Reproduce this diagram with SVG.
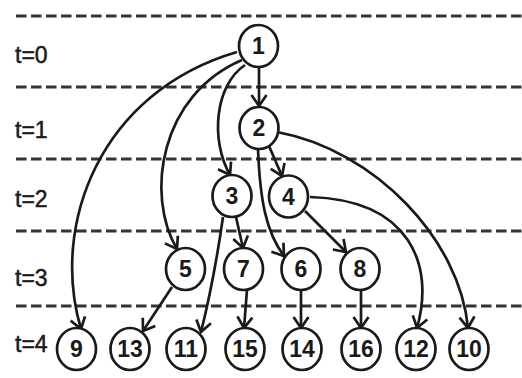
<svg xmlns="http://www.w3.org/2000/svg" width="522" height="378" viewBox="0 0 522 378">
<style>
.grid{stroke:#333;stroke-width:2.8;stroke-dasharray:10.5 4.5;fill:none}
.lbl{font-family:"Liberation Sans",Arial,sans-serif;font-size:23px;fill:#1a1a1a;stroke:#1a1a1a;stroke-width:0.5}
.node ellipse{fill:#fff;stroke:#1a1a1a;stroke-width:2.7}
.node text{font-family:"Liberation Sans",Arial,sans-serif;font-size:23px;font-weight:bold;fill:#1a1a1a;text-anchor:middle}
.edge{fill:none;stroke:#1a1a1a;stroke-width:2.7;marker-end:url(#arr)}
</style>
<defs>
<marker id="arr" markerUnits="userSpaceOnUse" viewBox="-13 -10 15 20" refX="0" refY="0" markerWidth="15" markerHeight="20" orient="auto">
<path d="M-11,-7.5 L0,0 L-11,7.5" fill="none" stroke="#1a1a1a" stroke-width="2.7" stroke-linejoin="miter"/>
</marker>
</defs>
<rect width="522" height="378" fill="#fff"/>
<g id="grid">
<line class="grid" x1="16" y1="16" x2="522" y2="16"/>
<line class="grid" x1="16" y1="87" x2="522" y2="87"/>
<line class="grid" x1="16" y1="159" x2="522" y2="159"/>
<line class="grid" x1="16" y1="231" x2="522" y2="231"/>
<line class="grid" x1="16" y1="306" x2="522" y2="306"/>
</g>
<g id="time-labels">
<text class="lbl" x="15" y="63">t=0</text>
<text class="lbl" x="15" y="138">t=1</text>
<text class="lbl" x="15" y="207">t=2</text>
<text class="lbl" x="15" y="286">t=3</text>
<text class="lbl" x="15" y="352">t=4</text>
</g>
<g id="connectors">
<path class="edge" d="M259,68 L259,106"/>
<path class="edge" d="M245,65 C215,85 210,140 230,175"/>
<path class="edge" d="M242,60 C160,95 145,195 177,249"/>
<path class="edge" d="M237,52 C100,92 50,225 81,329"/>
<path class="edge" d="M269,146 L282,176"/>
<path class="edge" d="M258,149 C260,200 266,232 284,256"/>
<path class="edge" d="M277,132 C375,150 460,240 468,328"/>
<path class="edge" d="M236,217 L243,248"/>
<path class="edge" d="M223,217 Q214,280 201,332"/>
<path class="edge" d="M305,211 L346,252"/>
<path class="edge" d="M310,197 C410,200 435,265 417,328"/>
<path class="edge" d="M172,287 L143,331"/>
<path class="edge" d="M247,290 L244,328"/>
<path class="edge" d="M301,290 L301,328"/>
<path class="edge" d="M361,290 L361,328"/>
</g>
<g id="n1" class="node"><ellipse cx="258.5" cy="46" rx="19.5" ry="21"/><text x="258.5" y="54">1</text></g>
<g id="n2" class="node"><ellipse cx="259" cy="128" rx="19.5" ry="21"/><text x="259" y="136">2</text></g>
<g id="n3" class="node"><ellipse cx="232" cy="196" rx="19.5" ry="21"/><text x="232" y="204">3</text></g>
<g id="n4" class="node"><ellipse cx="288.5" cy="196.5" rx="19.5" ry="21"/><text x="288.5" y="204.5">4</text></g>
<g id="n5" class="node"><ellipse cx="185.5" cy="269" rx="19.5" ry="21"/><text x="185.5" y="277">5</text></g>
<g id="n7" class="node"><ellipse cx="243.5" cy="269" rx="19.5" ry="21"/><text x="243.5" y="277">7</text></g>
<g id="n6" class="node"><ellipse cx="301" cy="269" rx="19.5" ry="21"/><text x="301" y="277">6</text></g>
<g id="n8" class="node"><ellipse cx="360" cy="269" rx="19.5" ry="21"/><text x="360" y="277">8</text></g>
<g id="n9" class="node"><ellipse cx="76.5" cy="349" rx="19.5" ry="21"/><text x="76.5" y="357">9</text></g>
<g id="n13" class="node"><ellipse cx="130" cy="349" rx="19.5" ry="21"/><text x="130" y="357">13</text></g>
<g id="n11" class="node"><ellipse cx="186" cy="349" rx="19.5" ry="21"/><text x="186" y="357">11</text></g>
<g id="n15" class="node"><ellipse cx="245" cy="349" rx="19.5" ry="21"/><text x="245" y="357">15</text></g>
<g id="n14" class="node"><ellipse cx="302" cy="349" rx="19.5" ry="21"/><text x="302" y="357">14</text></g>
<g id="n16" class="node"><ellipse cx="361" cy="349" rx="19.5" ry="21"/><text x="361" y="357">16</text></g>
<g id="n12" class="node"><ellipse cx="416" cy="349" rx="19.5" ry="21"/><text x="416" y="357">12</text></g>
<g id="n10" class="node"><ellipse cx="469" cy="349" rx="19.5" ry="21"/><text x="469" y="357">10</text></g>
</svg>
